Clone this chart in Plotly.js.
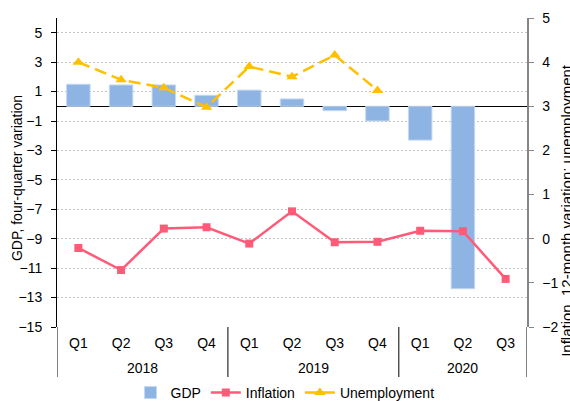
<!DOCTYPE html>
<html>
<head>
<meta charset="utf-8">
<script src="https://cdn.plot.ly/plotly-3.0.1.min.js"></script>
<style>html,body{margin:0;padding:0;background:#fff;}#chart{width:570px;height:401px;}</style>
</head>
<body>
<div id="chart"></div>
<script>
var years = ['2018','2018','2018','2018','2019','2019','2019','2019','2020','2020','2020'];
var quarters = ['Q1','Q2','Q3','Q4','Q1','Q2','Q3','Q4','Q1','Q2','Q3'];
var gdp = [1.5, 1.45, 1.45, 0.75, 1.1, 0.5, -0.3, -1.0, -2.3, -12.4, null];
var inflation = [-0.21, -0.71, 0.23, 0.26, -0.11, 0.62, -0.08, -0.07, 0.18, 0.17, -0.91];
var unemployment = [4.0, 3.6, 3.42, 2.98, 3.9, 3.67, 4.16, 3.36, null, null, null];

var font = 'Liberation Sans, Arial, sans-serif';
// category keys built from the year/quarter arrays
var cats = years.map(function(y, i){ return y + ' ' + quarters[i]; });

// group year labels & dividers derived from the years array
var groupNames = [], groupStart = [], groupEnd = [];
years.forEach(function(y, i){
  if (groupNames.length === 0 || groupNames[groupNames.length-1] !== y) {
    groupNames.push(y); groupStart.push(i); groupEnd.push(i);
  } else { groupEnd[groupEnd.length-1] = i; }
});

var traces = [
  {type:'bar', name:'GDP', x:cats, y:gdp, yaxis:'y', width:0.55,
   marker:{color:'#8EB4E3', line:{color:'#C6D9F1', width:1}}},
  {type:'scatter', mode:'lines+markers', name:'Inflation', x:cats, y:inflation, yaxis:'y2',
   line:{color:'#FF5B78', width:2.5}, marker:{symbol:'square', size:8, color:'#FF5B78'}},
  {type:'scatter', mode:'lines+markers', name:'Unemployment', x:cats, y:unemployment, yaxis:'y2',
   line:{color:'#FFC000', width:2.5, dash:'12px,6px'}, marker:{symbol:'triangle-up', size:10, color:'#FFC000'}}
];

var annotations = groupNames.map(function(g, k){
  return {xref:'x', yref:'paper', x:(groupStart[k] + groupEnd[k]) / 2, y:-0.1327, text:g,
          showarrow:false, xanchor:'center', yanchor:'middle', font:{size:14}};
});
annotations.push({xref:'paper', yref:'paper', x:-0.085, y:0.482, text:'GDP, four-quarter variation',
                  textangle:-90, showarrow:false, font:{size:14}, xanchor:'center', yanchor:'middle'});
annotations.push({xref:'paper', yref:'paper', x:1.085, y:0.379, text:'Inflation, 12-month variation; unemployment',
                  textangle:-90, showarrow:false, font:{size:15}, xanchor:'center', yanchor:'middle'});

var shapes = [];
var bounds = [groupStart[0] - 0.5];
groupEnd.forEach(function(e){ bounds.push(e + 0.5); });
bounds.forEach(function(b){
  shapes.push({type:'line', xref:'x', yref:'paper', x0:b, x1:b, y0:0, y1:-0.162, line:{color:'#000', width:1}});
});

var layout = {
  width:570, height:401,
  margin:{l:57, r:43, t:18, b:74, autoexpand:false},
  paper_bgcolor:'#fff', plot_bgcolor:'#fff',
  font:{family:font, size:14, color:'#000'},
  showlegend:true,
  legend:{orientation:'h', xref:'container', yref:'container', x:0.5, xanchor:'center', y:0.02, yanchor:'middle',
          font:{size:14}, traceorder:'normal', itemwidth:30},
  xaxis:{type:'category', range:[-0.5, cats.length - 0.5], tickvals:cats, ticktext:quarters,
         showgrid:false, zeroline:false, showline:false, ticks:'', ticklabelstandoff:6,
         tickfont:{size:14}, automargin:false},
  yaxis:{range:[-15,6], tick0:-15, dtick:2, showgrid:true, gridcolor:'#C4C4C4', griddash:'2px,2px', gridwidth:1,
         zeroline:true, zerolinecolor:'#000', zerolinewidth:1.5,
         showline:true, linecolor:'#000', linewidth:1, ticks:'outside', ticklen:5, tickcolor:'#000',
         ticklabelstandoff:6, tickfont:{size:14}, automargin:false},
  yaxis2:{overlaying:'y', side:'right', range:[-2,5], dtick:1, showgrid:false, zeroline:false,
          showline:true, linecolor:'#868686', linewidth:1.5, ticks:'outside', ticklen:5, tickcolor:'#868686',
          ticklabelstandoff:6, tickfont:{size:14}, automargin:false},
  annotations:annotations,
  shapes:shapes
};

Plotly.newPlot('chart', traces, layout, {staticPlot:true, displayModeBar:false});
</script>
</body>
</html>
